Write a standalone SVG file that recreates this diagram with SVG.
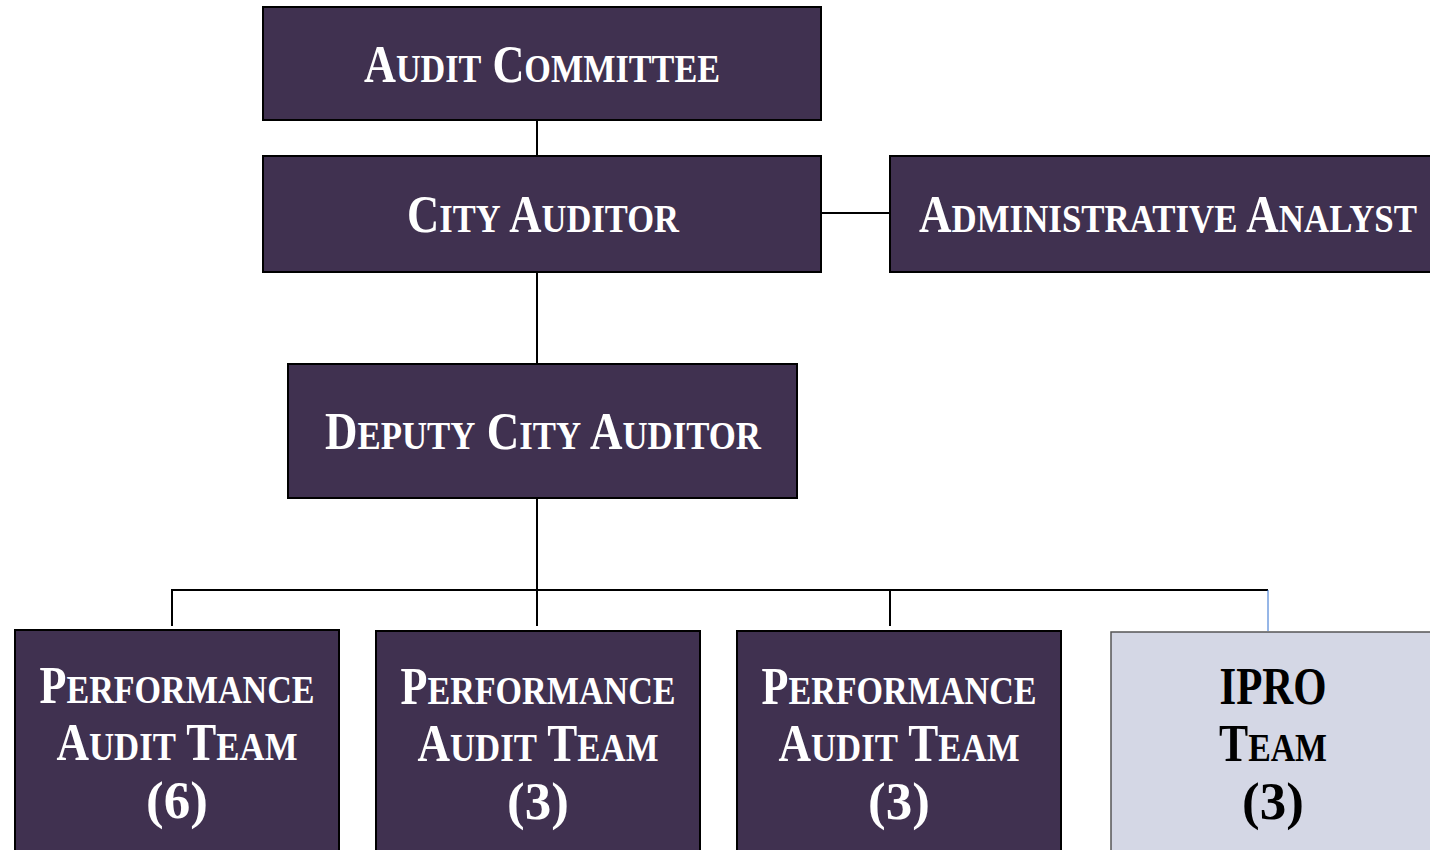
<svg xmlns="http://www.w3.org/2000/svg" width="1430" height="850" viewBox="0 0 1430 850">
<style>
.box{fill:#403150;stroke:#000;stroke-width:2}
.ipro{fill:#d4d7e5;stroke:#555;stroke-width:1.5}
.t{font-family:"Liberation Serif","DejaVu Serif",serif;font-weight:bold;font-size:53px;fill:#fff;text-anchor:middle}
.dk{fill:#000}
.s{font-size:41px}
.ln{fill:none;stroke:#000;stroke-width:2}
.lb{fill:none;stroke:#2f6fd0;stroke-width:1}
</style>
<rect width="1430" height="850" fill="#fff"/>
<g id="connectors">
<line class="ln" x1="537" y1="120" x2="537" y2="155"/>
<line class="ln" x1="537" y1="272" x2="537" y2="363"/>
<line class="ln" x1="822" y1="213" x2="889" y2="213"/>
<line class="ln" x1="537" y1="491" x2="537" y2="626"/>
<polyline class="ln" points="172,626 172,590 1268,590"/>
<line class="ln" x1="890" y1="590" x2="890" y2="626"/>
<line class="lb" x1="1268" y1="590" x2="1268" y2="631"/>
</g>
<g id="audit-committee">
<rect class="box" x="263" y="7" width="558" height="113"/>
<text class="t" x="542" y="82" textLength="356" lengthAdjust="spacingAndGlyphs">A<tspan class="s">UDIT</tspan> C<tspan class="s">OMMITTEE</tspan></text>
</g>
<g id="city-auditor">
<rect class="box" x="263" y="156" width="558" height="116"/>
<text class="t" x="543" y="232" textLength="272" lengthAdjust="spacingAndGlyphs">C<tspan class="s">ITY</tspan> A<tspan class="s">UDITOR</tspan></text>
</g>
<g id="administrative-analyst">
<rect class="box" x="890" y="156" width="545" height="116"/>
<text class="t" x="1168" y="232" textLength="498" lengthAdjust="spacingAndGlyphs">A<tspan class="s">DMINISTRATIVE</tspan> A<tspan class="s">NALYST</tspan></text>
</g>
<g id="deputy-city-auditor">
<rect class="box" x="288" y="364" width="509" height="134"/>
<text class="t" x="543" y="449" textLength="436" lengthAdjust="spacingAndGlyphs">D<tspan class="s">EPUTY</tspan> C<tspan class="s">ITY</tspan> A<tspan class="s">UDITOR</tspan></text>
</g>
<g id="performance-audit-team-6">
<rect class="box" x="15" y="630" width="324" height="240"/>
<text class="t" x="177" y="703" textLength="275" lengthAdjust="spacingAndGlyphs">P<tspan class="s">ERFORMANCE</tspan></text>
<text class="t" x="177" y="760" textLength="241" lengthAdjust="spacingAndGlyphs">A<tspan class="s">UDIT</tspan> T<tspan class="s">EAM</tspan></text>
<text class="t" x="177" y="818">(6)</text>
</g>
<g id="performance-audit-team-3a">
<rect class="box" x="376" y="631" width="324" height="240"/>
<text class="t" x="538" y="704" textLength="275" lengthAdjust="spacingAndGlyphs">P<tspan class="s">ERFORMANCE</tspan></text>
<text class="t" x="538" y="761" textLength="241" lengthAdjust="spacingAndGlyphs">A<tspan class="s">UDIT</tspan> T<tspan class="s">EAM</tspan></text>
<text class="t" x="538" y="819">(3)</text>
</g>
<g id="performance-audit-team-3b">
<rect class="box" x="737" y="631" width="324" height="240"/>
<text class="t" x="899" y="704" textLength="275" lengthAdjust="spacingAndGlyphs">P<tspan class="s">ERFORMANCE</tspan></text>
<text class="t" x="899" y="761" textLength="241" lengthAdjust="spacingAndGlyphs">A<tspan class="s">UDIT</tspan> T<tspan class="s">EAM</tspan></text>
<text class="t" x="899" y="819">(3)</text>
</g>
<g id="ipro-team">
<rect class="ipro" x="1111" y="632" width="330" height="240"/>
<text class="t dk" x="1273" y="704" textLength="107" lengthAdjust="spacingAndGlyphs">IPRO</text>
<text class="t dk" x="1273" y="761" textLength="108" lengthAdjust="spacingAndGlyphs">T<tspan class="s">EAM</tspan></text>
<text class="t dk" x="1273" y="819">(3)</text>
</g>
</svg>
